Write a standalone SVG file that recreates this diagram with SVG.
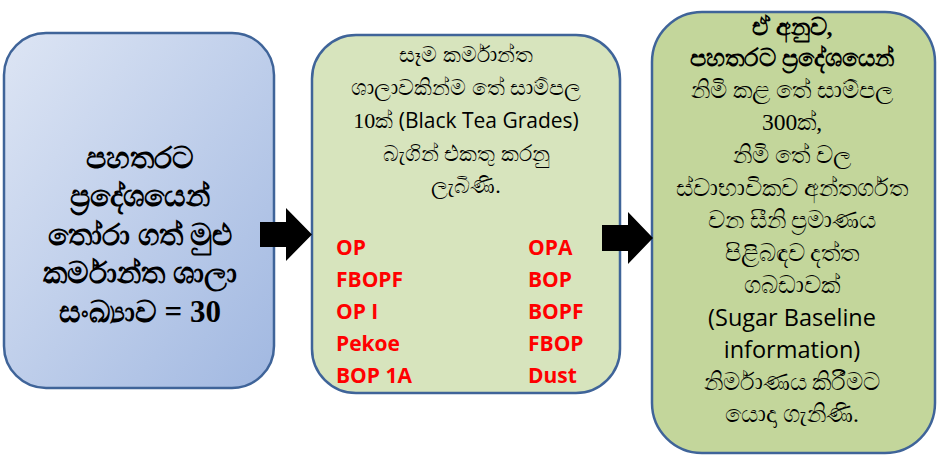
<svg xmlns="http://www.w3.org/2000/svg" width="937" height="462" viewBox="0 0 937 462">
<defs>
<linearGradient id="g1" x1="0" y1="0" x2="1" y2="1">
<stop offset="0" stop-color="#dde5f4"/>
<stop offset="1" stop-color="#a1b8e1"/>
</linearGradient>
</defs>
<style>
.box{stroke:#3f6499;stroke-width:2.5}
.si{font-family:'Liberation Serif',serif;font-size:22px;fill:#000;text-anchor:middle}
.s1{font-family:'Liberation Serif',serif;font-size:30px;font-weight:bold;fill:#000;text-anchor:middle}
.s3{font-family:'Liberation Serif',serif;font-size:23.5px;fill:#000;text-anchor:middle}
.b{font-weight:bold;font-size:24px}
.en{font-family:'Open Sans','Liberation Sans',sans-serif;font-size:21px}
.en3{font-family:'Open Sans','Liberation Sans',sans-serif;font-size:23.5px;fill:#000;text-anchor:middle}
.num{font-size:31px}
.red{font-family:'Open Sans','Liberation Sans',sans-serif;font-size:21px;font-weight:bold;fill:#ff0000}
.arr{fill:#000}
</style>
<g id="node1">
<rect class="box" x="4" y="33" width="270" height="355" rx="42" fill="url(#g1)"/>
<text class="s1" x="140" y="168">පහතරට</text>
<text class="s1" x="140" y="206">ප්‍රදේශයෙන්</text>
<text class="s1" x="140" y="245">තෝරා ගත් මුළු</text>
<text class="s1" x="140" y="283">කර්මාන්ත ශාලා</text>
<text class="s1" x="140" y="322">සංඛ්‍යාව <tspan class="num">= 30</tspan></text>
</g>
<g id="node2">
<rect class="box" x="312" y="35" width="308" height="358" rx="44" fill="#d7e4bd"/>
<text class="si" x="466" y="62">සෑම කර්මාන්ත</text>
<text class="si" x="466" y="95">ශාලාවකින්ම තේ සාම්පල</text>
<text class="si" x="466" y="128">10ක් <tspan class="en">(Black Tea Grades)</tspan></text>
<text class="si" x="466" y="161">බැගින් එකතු කරනු</text>
<text class="si" x="466" y="193">ලැබිණි.</text>
<text class="red" x="336" y="255">OP</text>
<text class="red" x="336" y="287">FBOPF</text>
<text class="red" x="336" y="319">OP I</text>
<text class="red" x="336" y="351">Pekoe</text>
<text class="red" x="336" y="383">BOP 1A</text>
<text class="red" x="528" y="255">OPA</text>
<text class="red" x="528" y="287">BOP</text>
<text class="red" x="528" y="319">BOPF</text>
<text class="red" x="528" y="351">FBOP</text>
<text class="red" x="528" y="383">Dust</text>
</g>
<g id="node3">
<rect class="box" x="652" y="12" width="283" height="441" rx="50" fill="#c3d69b"/>
<text class="s3 b" x="792" y="35">ඒ අනුව,</text>
<text class="s3 b" x="792" y="66">පහතරට ප්‍රදේශයෙන්</text>
<text class="s3" x="792" y="98">නිමි කළ තේ සාම්පල</text>
<text class="s3" x="792" y="130">300ක්,</text>
<text class="s3" x="792" y="163">නිමි තේ වල</text>
<text class="s3" x="792" y="196">ස්වාභාවිකව අන්තර්ගත</text>
<text class="s3" x="792" y="228">වන සීනි ප්‍රමාණය</text>
<text class="s3" x="792" y="261">පිළිබඳව දත්ත</text>
<text class="s3" x="792" y="293">ගබඩාවක්</text>
<text class="en3" x="792" y="326">(Sugar Baseline</text>
<text class="en3" x="792" y="358">information)</text>
<text class="s3" x="792" y="390">නිර්මාණය කිරීමට</text>
<text class="s3" x="792" y="422">යොදා ගැනිණි.</text>
</g>
<g id="connectors">
<path class="arr" d="M260,222 H286 V208 L312,234.5 L286,261 V247 H260 Z"/>
<path class="arr" d="M602,225 H628 V212 L653,238 L628,264 V251 H602 Z"/>
</g>
</svg>
